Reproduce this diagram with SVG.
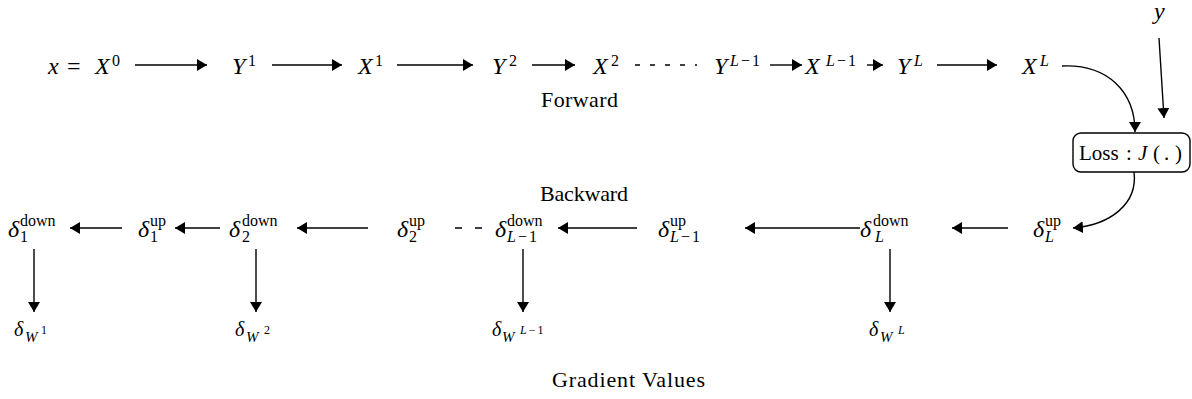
<svg xmlns="http://www.w3.org/2000/svg" width="1192" height="399" viewBox="0 0 1192 399" font-family="'Liberation Serif', 'DejaVu Serif', serif">
<defs>
<style>
text{font-family:'Liberation Serif','DejaVu Serif',serif;fill:#000}
.m{font-style:italic;font-size:24px}
.r{font-style:normal}
.lab{font-size:22px}
.bx{font-size:21px}
.sp{font-size:16px}
.ss{font-size:16px}
.dm{font-style:italic;font-size:24px}
.wd{font-style:italic;font-size:20px}
.ws{font-style:italic;font-size:15px}
.wss{font-size:12px}
.c{fill:none;stroke:#000;stroke-width:1.4}
.dash{fill:none;stroke:#000;stroke-width:1.4}
.box{fill:#fff;stroke:#000;stroke-width:1.4}
</style>
<marker id="ah" viewBox="0 0 10 12" refX="10" refY="6" markerWidth="10" markerHeight="12" markerUnits="userSpaceOnUse" orient="auto">
<path d="M0,0 L10,6 L0,12 z" fill="#000"/>
</marker>
</defs>
<rect width="1192" height="399" fill="#fff"/>

<g id="connectors">
<line class="c" x1="135" y1="65" x2="207" y2="65" marker-end="url(#ah)"/>
<line class="c" x1="272" y1="65" x2="342" y2="65" marker-end="url(#ah)"/>
<line class="c" x1="397" y1="65" x2="473" y2="65" marker-end="url(#ah)"/>
<line class="c" x1="532" y1="65" x2="575" y2="65" marker-end="url(#ah)"/>
<line class="dash" x1="635" y1="65" x2="697" y2="65" stroke-dasharray="5 10"/>
<line class="c" x1="770" y1="65" x2="802" y2="65" marker-end="url(#ah)"/>
<line class="c" x1="867" y1="65" x2="883" y2="65" marker-end="url(#ah)"/>
<line class="c" x1="937" y1="65" x2="997" y2="65" marker-end="url(#ah)"/>
<path class="c" d="M1062,66 C1108,64 1135,92 1135,132" marker-end="url(#ah)"/>
<line class="c" x1="1159" y1="38" x2="1164" y2="118" marker-end="url(#ah)"/>
<path class="c" d="M1134,172 C1138,204 1110,225 1073,228" marker-end="url(#ah)"/>
<line class="c" x1="1008" y1="228" x2="952" y2="228" marker-end="url(#ah)"/>
<line class="c" x1="860" y1="228" x2="745" y2="228" marker-end="url(#ah)"/>
<line class="c" x1="637" y1="228" x2="558" y2="228" marker-end="url(#ah)"/>
<line class="dash" x1="455" y1="228" x2="482" y2="228" stroke-dasharray="7 13"/>
<line class="c" x1="368" y1="228" x2="297" y2="228" marker-end="url(#ah)"/>
<line class="c" x1="220" y1="228" x2="175" y2="228" marker-end="url(#ah)"/>
<line class="c" x1="122" y1="228" x2="70" y2="228" marker-end="url(#ah)"/>
<line class="c" x1="34" y1="249" x2="34" y2="312" marker-end="url(#ah)"/>
<line class="c" x1="256" y1="249" x2="256" y2="312" marker-end="url(#ah)"/>
<line class="c" x1="523" y1="249" x2="523" y2="312" marker-end="url(#ah)"/>
<line class="c" x1="890" y1="249" x2="890" y2="312" marker-end="url(#ah)"/>
</g>

<g id="x0">
<text class="m" x="48" y="74">x</text>
<text class="m r" x="67" y="74">=</text>
<text class="m" x="95" y="74">X</text>
<text class="sp" x="112" y="66">0</text>
</g>
<g id="y1">
<text class="m" x="232" y="74">Y</text>
<text class="sp" x="248" y="66">1</text>
</g>
<g id="x1">
<text class="m" x="358" y="74">X</text>
<text class="sp" x="375" y="66">1</text>
</g>
<g id="y2">
<text class="m" x="492" y="74">Y</text>
<text class="sp" x="509" y="66">2</text>
</g>
<g id="x2">
<text class="m" x="593" y="74">X</text>
<text class="sp" x="611" y="66">2</text>
</g>
<g id="yLm1">
<text class="m" x="714" y="74">Y</text>
<text class="sp" x="730" y="66"><tspan font-style="italic">L</tspan><tspan dx="2">−</tspan><tspan dx="2">1</tspan></text>
</g>
<g id="xLm1">
<text class="m" x="805" y="74">X</text>
<text class="sp" x="826" y="66"><tspan font-style="italic">L</tspan><tspan dx="2">−</tspan><tspan dx="2">1</tspan></text>
</g>
<g id="yL">
<text class="m" x="897" y="74">Y</text>
<text class="sp" x="914" y="66" font-style="italic">L</text>
</g>
<g id="xL">
<text class="m" x="1022" y="74">X</text>
<text class="sp" x="1040" y="66" font-style="italic">L</text>
</g>
<g id="ylabel">
<text class="m" x="1154" y="19" font-size="19">y</text>
</g>
<g id="forward">
<text class="lab" x="541" y="107" textLength="77" lengthAdjust="spacing">Forward</text>
</g>
<g id="loss">
<rect class="box" x="1073" y="133" width="117" height="39" rx="8"/>
<text class="bx" x="1079" y="160">Loss</text>
<text class="bx" x="1126" y="160">:</text>
<text class="bx" x="1138" y="160" font-style="italic">J</text>
<text class="bx" y="160"><tspan x="1153">(</tspan><tspan x="1164">.</tspan><tspan x="1175">)</tspan></text>
</g>
<g id="backward">
<text class="lab" x="540" y="201" textLength="88" lengthAdjust="spacing">Backward</text>
</g>

<g id="d1down">
<text class="dm" x="8" y="237">δ</text>
<text class="ss" x="20" y="226">down</text>
<text class="ss" x="20" y="242">1</text>
</g>
<g id="d1up">
<text class="dm" x="138" y="237">δ</text>
<text class="ss" x="150" y="226">up</text>
<text class="ss" x="150" y="242">1</text>
</g>
<g id="d2down">
<text class="dm" x="229" y="237">δ</text>
<text class="ss" x="242" y="226">down</text>
<text class="ss" x="242" y="242">2</text>
</g>
<g id="d2up">
<text class="dm" x="397" y="237">δ</text>
<text class="ss" x="409" y="226">up</text>
<text class="ss" x="409" y="242">2</text>
</g>
<g id="dLm1down">
<text class="dm" x="495" y="237">δ</text>
<text class="ss" x="507" y="226">down</text>
<text class="ss" x="507" y="242"><tspan font-style="italic">L</tspan><tspan dx="2">−</tspan><tspan dx="2">1</tspan></text>
</g>
<g id="dLm1up">
<text class="dm" x="658" y="237">δ</text>
<text class="ss" x="670" y="226">up</text>
<text class="ss" x="670" y="242"><tspan font-style="italic">L</tspan><tspan dx="2">−</tspan><tspan dx="2">1</tspan></text>
</g>
<g id="dLdown">
<text class="dm" x="860" y="237">δ</text>
<text class="ss" x="873" y="226">down</text>
<text class="ss" x="875" y="242" font-style="italic">L</text>
</g>
<g id="dLup">
<text class="dm" x="1033" y="237">δ</text>
<text class="ss" x="1045" y="226">up</text>
<text class="ss" x="1045" y="242" font-style="italic">L</text>
</g>

<g id="dW1">
<text class="wd" x="14" y="336">δ</text>
<text class="ws" x="25" y="342">W</text>
<text class="wss" x="41" y="334">1</text>
</g>
<g id="dW2">
<text class="wd" x="235" y="336">δ</text>
<text class="ws" x="246" y="342">W</text>
<text class="wss" x="264" y="334">2</text>
</g>
<g id="dWLm1">
<text class="wd" x="492" y="336">δ</text>
<text class="ws" x="502" y="342">W</text>
<text class="wss" x="520" y="334"><tspan font-style="italic">L</tspan><tspan dx="2">−</tspan><tspan dx="2">1</tspan></text>
</g>
<g id="dWL">
<text class="wd" x="869" y="336">δ</text>
<text class="ws" x="880" y="342">W</text>
<text class="wss" x="898" y="334" font-style="italic">L</text>
</g>
<g id="gradient">
<text class="lab" x="552" y="387" textLength="153" lengthAdjust="spacing">Gradient Values</text>
</g>
</svg>
